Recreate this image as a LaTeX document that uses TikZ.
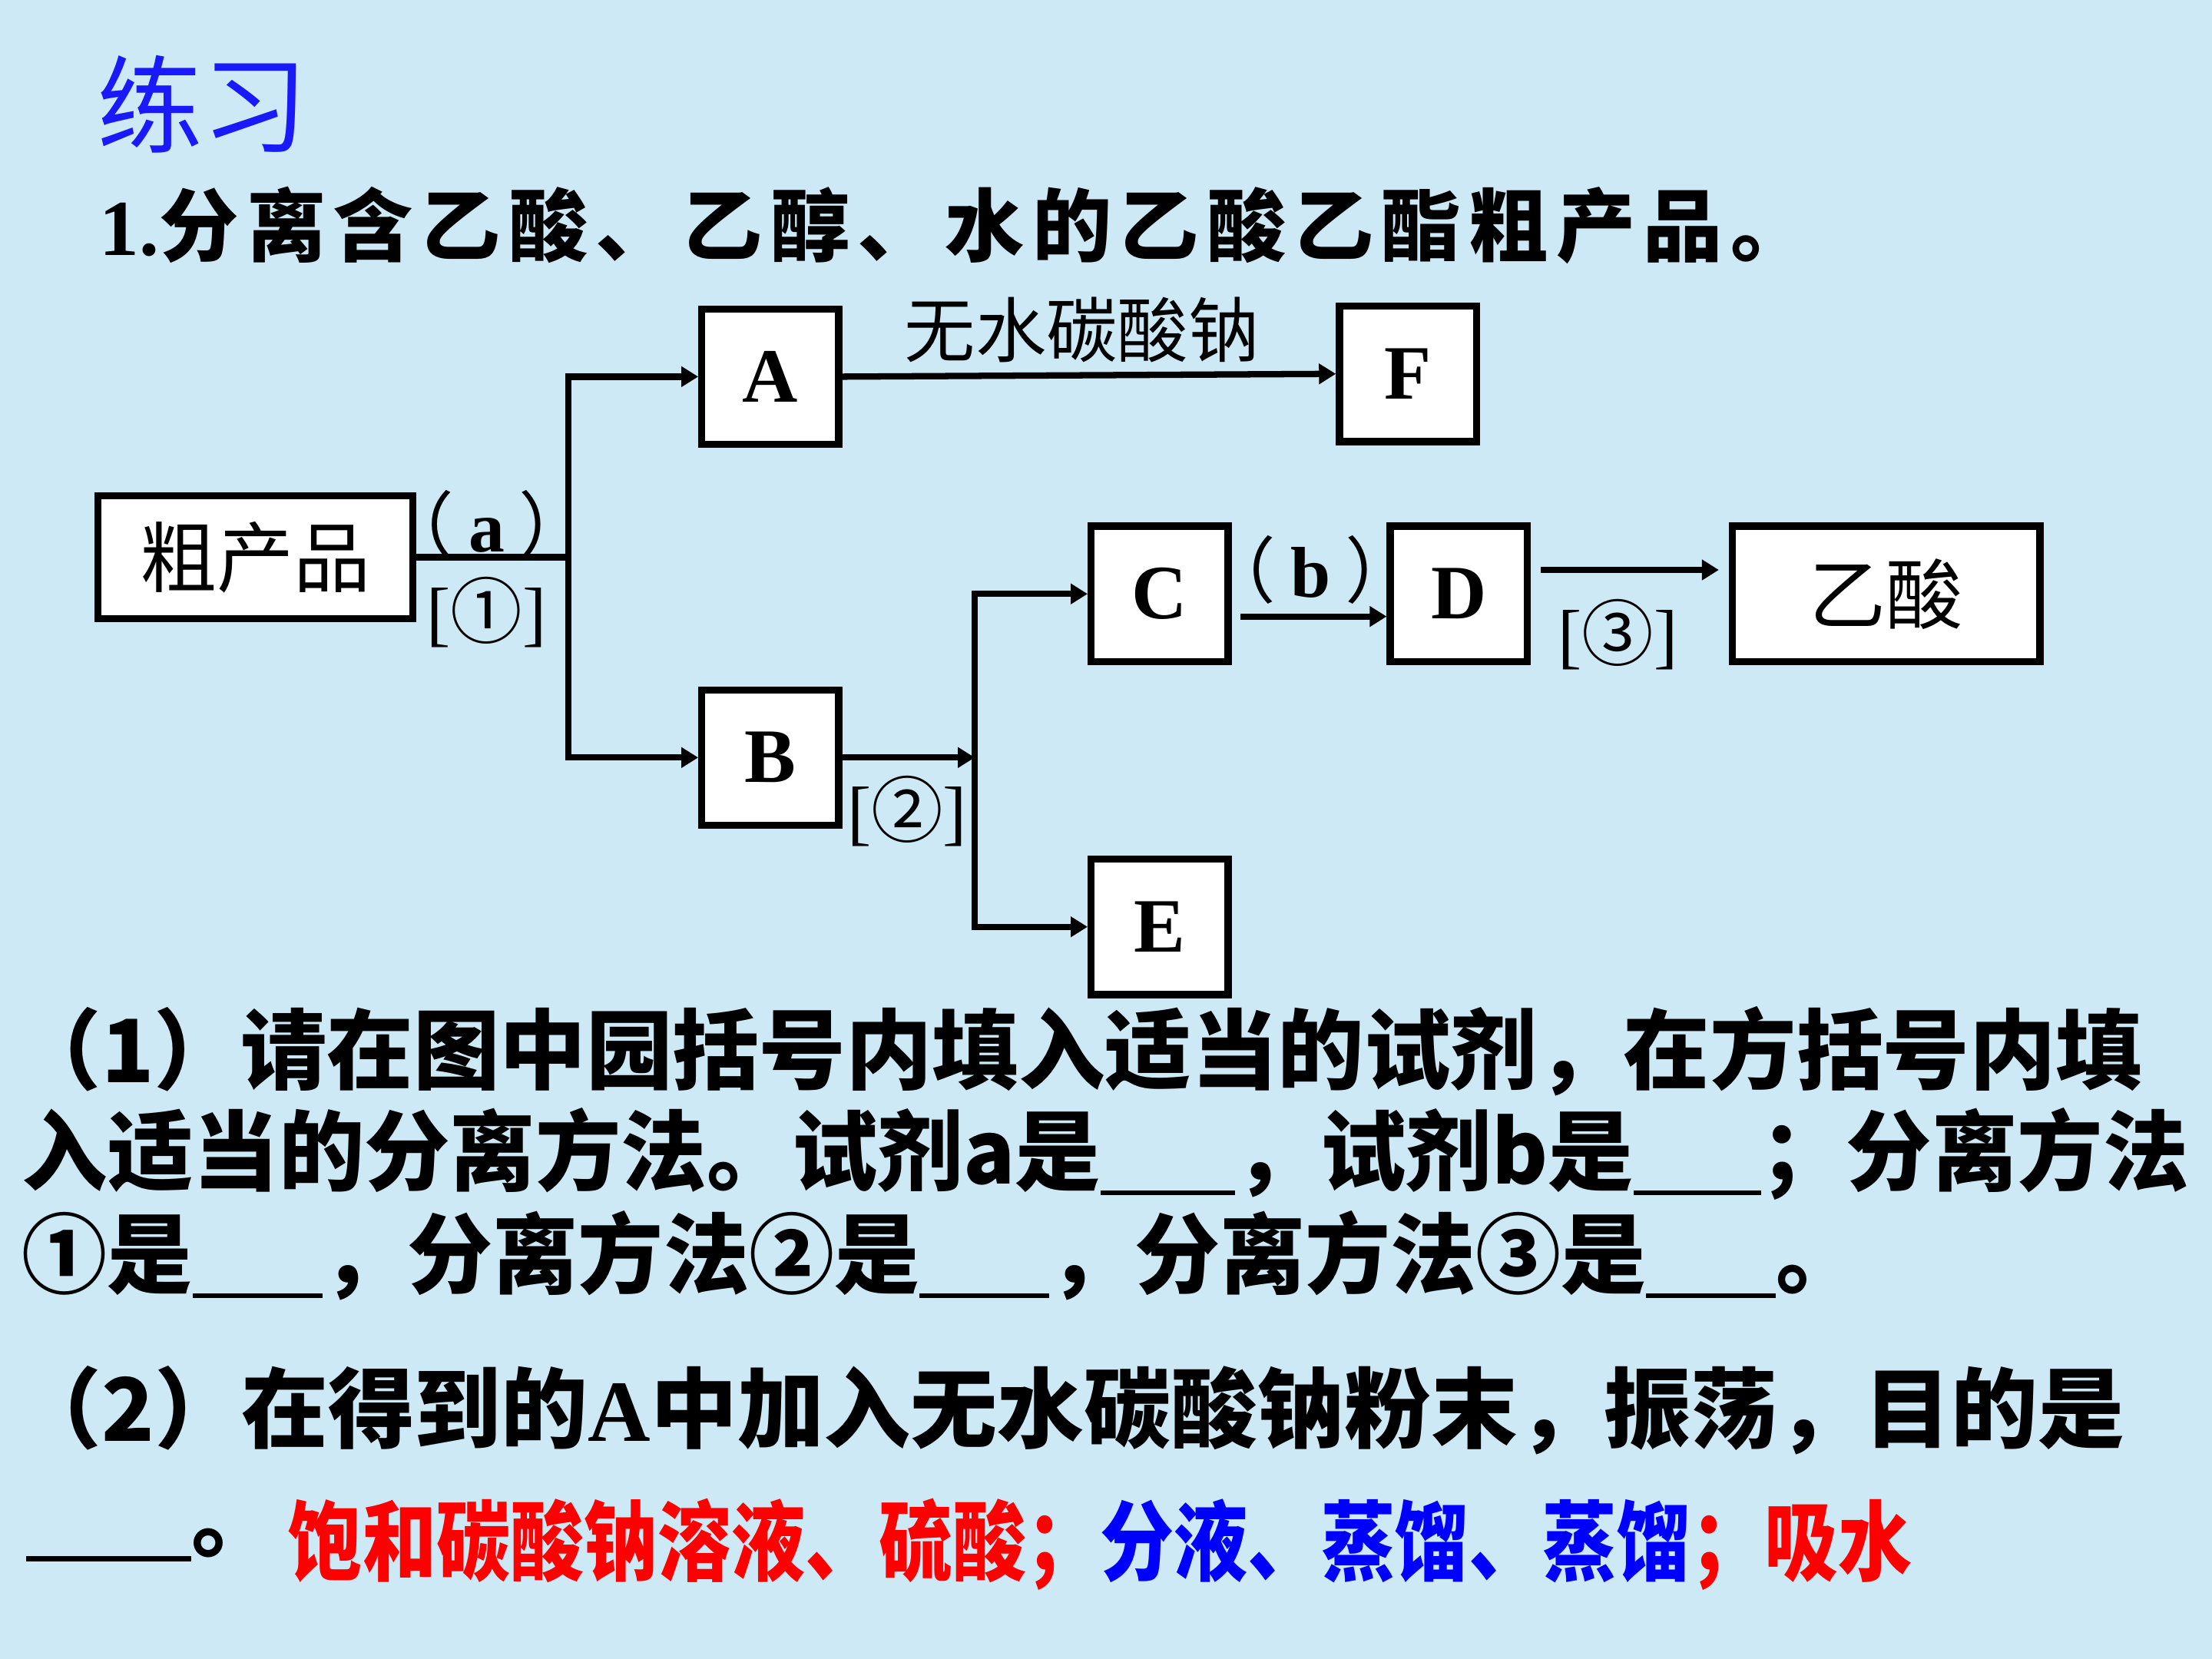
\documentclass[tikz,border=0pt]{standalone}
\usepackage{fontspec}
\setmainfont{Liberation Serif}
\newfontfamily\cjk{Noto Sans CJK SC}
\newfontfamily\cjkls{Noto Sans CJK SC}[LetterSpace=10]
\usetikzlibrary{arrows.meta}
\definecolor{bg}{RGB}{205,233,245}
\definecolor{tblue}{RGB}{25,25,250}
\newcommand{\blankline}[1]{\rule[-0.13em]{#1}{0.035cm}}
\newcommand{\parlabel}[1]{{\cjk （}\hspace{0.2em}\textbf{#1}\hspace{0.2em}{\cjk ）}}
\begin{document}
\begin{tikzpicture}[x=0.01cm,y=-0.01cm,
  box/.style={draw,line width=0.05cm,fill=white,inner sep=0,minimum width=0.97cm,minimum height=0.96cm,font=\bfseries\fontsize{15.5}{16}\selectfont},
  wbox/.style={box,minimum width=2.23cm,minimum height=0.87cm,font=\cjk\fontsize{15.5}{16}\selectfont},
  conn/.style={line width=0.045cm},
  arr/.style={conn,-{Triangle[length=0.12cm,width=0.14cm]}},
  arrs/.style={conn,{Triangle[length=0.12cm,width=0.14cm]}-{Triangle[length=0.12cm,width=0.14cm]}},
  lbl/.style={inner sep=0,font=\fontsize{14.5}{15}\selectfont},
  para/.style={inner sep=0,anchor=west,font=\cjk\bfseries\fontsize{17.6}{18}\selectfont}
]
\fill[bg] (0,0) rectangle (1568,1176);
\useasboundingbox (0,0) rectangle (1568,1176);

% title
\node[inner sep=0,anchor=west,text=tblue,font=\cjk\fontsize{21.3}{22}\selectfont] (title) at (68,74) {练习};
\node[inner sep=0,anchor=west,font=\bfseries\fontsize{16}{17}\selectfont] (head) at (70,160) {1.{\cjkls 分离含乙酸、乙醇、水的乙酸乙酯粗产品。}};

% boxes
\node[wbox] (P) at (181,395) {粗产品};
\node[box] (A) at (546,267) {A};
\node[box] (F) at (998,265) {F};
\node[box] (C) at (822,421) {C};
\node[box] (D) at (1034,421) {D};
\node[wbox,minimum width=2.18cm,minimum height=0.96cm] (Y) at (1337,421) {乙酸};
\node[box] (B) at (546,537) {B};
\node[box] (E) at (822,657) {E};

% junctions
\coordinate (j1) at (403,396);
\coordinate (j2) at (691,537);

% connectors
\draw[conn] (P.east) -- (P.east -| j1);
\draw[arrs] (A.west) -- (A.west -| j1) -- (B.west -| j1) -- (B.west);
\draw[arr] (A.east) -- (F.west);
\draw[arr] (B.east) -- (B.east -| j2);
\draw[arrs] (C.west) -- (C.west -| j2) -- (E.west -| j2) -- (E.west);
\draw[arr] ([xshift=0.06cm,yshift=-0.16cm]C.east) -- ([yshift=-0.16cm]D.west);
\draw[arr] ([xshift=0.07cm,yshift=0.17cm]D.east) -- ([xshift=-0.07cm,yshift=0.17cm]Y.west);

% labels
\node[lbl] (la) at (345,372) {\parlabel{a}};
\node[lbl] (l1) at (345,434) {[{\cjk ①}]};
\node[lbl,font=\cjk\fontsize{14.3}{15}\selectfont] (lna) at (767,234) {无水碳酸钠};
\node[lbl] (lb) at (929,404) {\parlabel{b}};
\node[lbl] (l2) at (643,575) {[{\cjk ②}]};
\node[lbl] (l3) at (1147,450) {[{\cjk ③}]};

% paragraphs
\node[para] (p1) at (10,745) {\scalebox{0.99}[1]{（1）请在图中园括号内填入适当的试剂，在方括号内填}};
\node[para] (p2) at (15,818) {\scalebox{0.98}[1]{入适当的分离方法。试剂a是\blankline{0.97cm}，试剂b是\blankline{0.92cm}；分离方法}};
\node[para] (p3) at (15,890) {\scalebox{0.977}[1]{①是\blankline{0.94cm}，分离方法②是\blankline{0.94cm}，分离方法③是\blankline{0.94cm}。}};
\node[para] (p4) at (10,1000) {\scalebox{0.993}[1]{（2）在得到的{\rmfamily A}中加入无水碳酸钠粉末，振荡，目的是}};
\node[para] (p5) at (18,1095) {\blankline{1.17cm}。};
\node[para] (ans) at (204,1095) {\scalebox{0.845}[1]{{\color{red}饱和碳酸钠溶液、硫酸；}{\color{blue}分液、蒸馏、蒸馏}{\color{red}；吸水}}};
\end{tikzpicture}
\end{document}
